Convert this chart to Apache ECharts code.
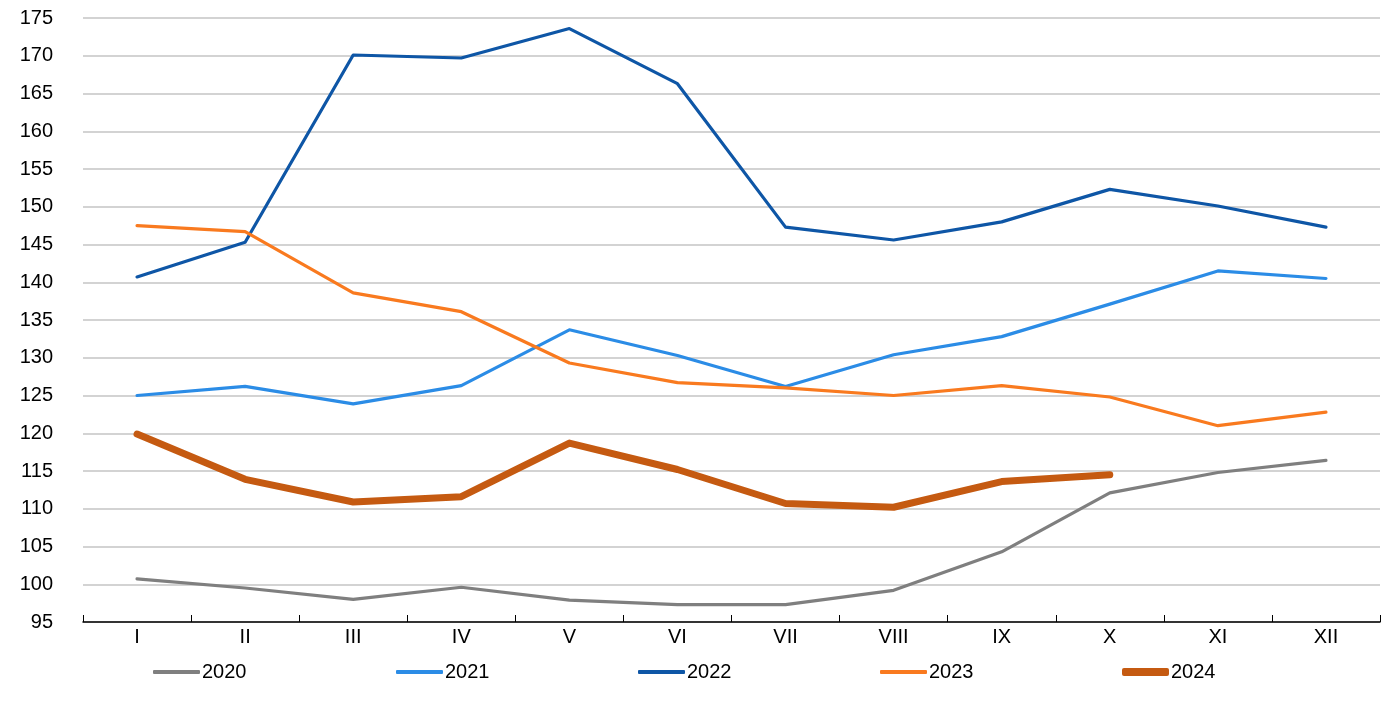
<!DOCTYPE html>
<html><head><meta charset="utf-8">
<script src="https://cdn.jsdelivr.net/npm/echarts@6/dist/echarts.min.js"></script>
<style>html,body{margin:0;padding:0;background:#fff}#c{width:1400px;height:715px}</style>
</head><body><div id="c"></div>
<script>
const categories = ['I','II','III','IV','V','VI','VII','VIII','IX','X','XI','XII'];
const s2020 = [100.7, 99.5, 98.0, 99.6, 97.9, 97.3, 97.3, 99.2, 104.3, 112.1, 114.8, 116.4];
const s2021 = [125.0, 126.2, 123.9, 126.3, 133.7, 130.3, 126.2, 130.4, 132.8, 137.1, 141.5, 140.5];
const s2022 = [140.7, 145.3, 170.1, 169.7, 173.6, 166.3, 147.3, 145.6, 148.0, 152.3, 150.1, 147.3];
const s2023 = [147.5, 146.7, 138.6, 136.1, 129.3, 126.7, 126.0, 125.0, 126.3, 124.8, 121.0, 122.8];
const s2024 = [119.9, 113.9, 110.9, 111.6, 118.7, 115.2, 110.7, 110.2, 113.6, 114.5];
const yTicks = {min: 95, max: 175, interval: 5};

const names = ['2020','2021','2022','2023','2024'];
const datas = [s2020, s2021, s2022, s2023, s2024];
const colors = ['#7f7f7f', '#2b8ce6', '#0e56a6', '#f97a1f', '#c55a11'];
const widths = [3.2, 3.2, 3.2, 3.2, 7];
const legendLeft = [148, 391, 633, 875, 1117];
const font = 'Liberation Sans, Arial, sans-serif';

const chart = echarts.init(document.getElementById('c'));
chart.setOption({
  animation: false,
  grid: {left: 83, right: 20, top: 18, bottom: 93, containLabel: false},
  xAxis: {
    type: 'category', data: categories, boundaryGap: true,
    axisLine: {lineStyle: {color: '#000', width: 1.5}},
    axisTick: {show: true, inside: true, length: 7, lineStyle: {color: '#000', width: 1}},
    axisLabel: {color: '#000', fontSize: 20, fontFamily: font, margin: 5}
  },
  yAxis: {
    type: 'value', min: yTicks.min, max: yTicks.max, interval: yTicks.interval,
    axisLine: {show: false}, axisTick: {show: false},
    axisLabel: {color: '#000', fontSize: 20, fontFamily: font, margin: 30},
    splitLine: {lineStyle: {color: '#c4c4c4', width: 1.5}}
  },
  legend: names.map((n, i) => ({
    left: legendLeft[i], top: 657, data: [n], icon: 'roundRect',
    itemWidth: 47, itemHeight: i === 4 ? 8 : 4, itemGap: 5,
    textStyle: {color: '#000', fontSize: 20, fontFamily: font, padding: [0,0,0,-3]},
    selectedMode: false
  })),
  series: names.map((n, i) => ({
    name: n, type: 'line', data: datas[i], symbol: 'none', smooth: false,
    lineStyle: {color: colors[i], width: widths[i], cap: 'round', join: 'round'},
    itemStyle: {color: colors[i]}, z: i === 4 ? 10 : 2
  }))
});
</script></body></html>
